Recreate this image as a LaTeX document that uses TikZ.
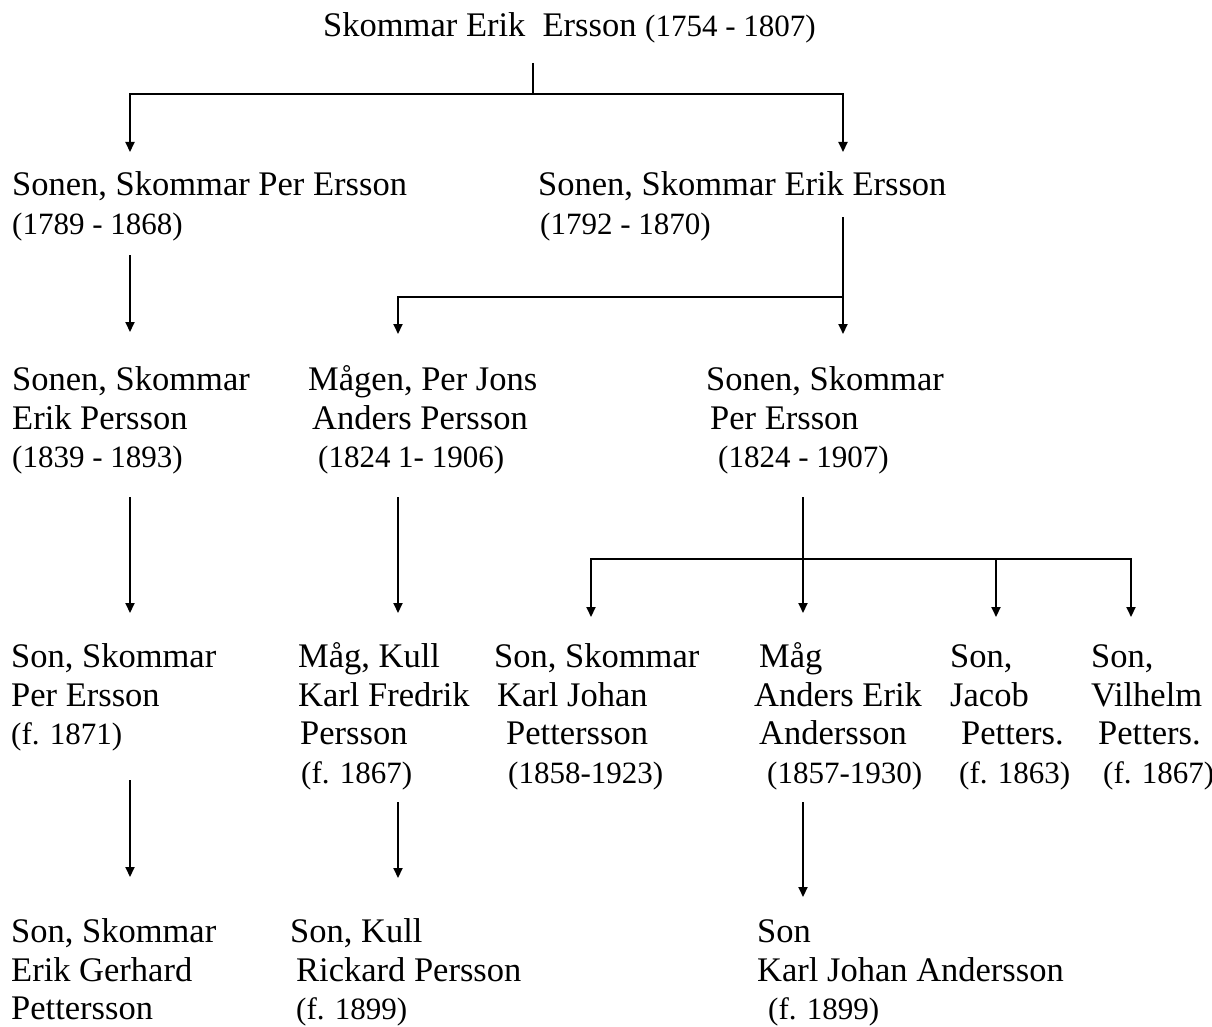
\documentclass[tikz,border=0pt]{standalone}
\usepackage{fontspec}
\setmainfont{Liberation Serif}
\usetikzlibrary{arrows.meta}
\newcommand\dates[1]{{\fontsize{31}{38.5}\selectfont #1}}
\begin{document}
\begin{tikzpicture}[x=1pt,y=-1pt,
  person/.style={anchor=base west, inner sep=0pt, align=left,
                 font=\fontsize{34.5}{38.5}\selectfont},
  conn/.style={line width=2pt},
  arr/.style={line width=2pt, -{Triangle[width=9pt,length=10pt]}}]
\useasboundingbox (0,0) rectangle (1212,1027);
\fill[white] (0,0) rectangle (1212,1027);

% ---- people (multi-line nodes: base = last line baseline + strut depth) ----
\node[person] (n0)  at (323,37)     {Skommar Erik~ Ersson \dates{(1754 - 1807)}};
\node[person] (n1)  at (12,234)     {Sonen, Skommar Per Ersson\\\dates{(1789 - 1868)}};
\node[person] (n2)  at (538,234)    {Sonen, Skommar Erik Ersson\\\hspace*{2pt}\dates{(1792 - 1870)}};
\node[person] (n3)  at (12,467.5)   {Sonen, Skommar\\Erik Persson\\\dates{(1839 - 1893)}};
\node[person] (n4)  at (308,467.5)  {Mågen, Per Jons\\\hspace*{4pt}Anders Persson\\\hspace*{10pt}\dates{(1824 1- 1906)}};
\node[person] (n5)  at (706,467.5)  {Sonen, Skommar\\\hspace*{4pt}Per Ersson\\\hspace*{12pt}\dates{(1824 - 1907)}};
\node[person] (n6)  at (11,744.5)   {Son, Skommar\\Per Ersson\\\dates{(f. 1871)}};
\node[person] (n7)  at (298,783)    {Måg, Kull\\Karl Fredrik\\\hspace*{2pt}Persson\\\hspace*{3pt}\dates{(f. 1867)}};
\node[person] (n8)  at (494,783)    {Son, Skommar\\\hspace*{3pt}Karl Johan\\\hspace*{12pt}Pettersson\\\hspace*{14pt}\dates{(1858-1923)}};
\node[person] (n9)  at (754,783)    {\hspace*{5pt}Måg\\Anders Erik\\\hspace*{5pt}Andersson\\\hspace*{13pt}\dates{(1857-1930)}};
\node[person] (n10) at (950,783)    {Son,\\Jacob\\\hspace*{11pt}Petters.\\\hspace*{9pt}\dates{(f. 1863)}};
\node[person] (n11) at (1091,783)   {Son,\\Vilhelm\\\hspace*{7pt}Petters.\\\hspace*{12pt}\dates{(f. 1867)}};
\node[person] (n12) at (11,1019.5)  {Son, Skommar\\Erik Gerhard\\Pettersson};
\node[person] (n13) at (290,1019.5) {Son, Kull\\\hspace*{6pt}Rickard Persson\\\hspace*{6pt}\dates{(f. 1899)}};
\node[person] (n14) at (757,1019.5) {Son\\Karl Johan Andersson\\\hspace*{11pt}\dates{(f. 1899)}};

% ---- connector points ----
\coordinate (t0) at (533,63);
\coordinate (j0) at (533,94);
\coordinate (a1) at (130,152);
\coordinate (a2) at (843,152);
\coordinate (s1) at (130,255);
\coordinate (a3) at (130,332);
\coordinate (s2) at (843,217);
\coordinate (j2) at (843,297);
\coordinate (a4) at (398,334);
\coordinate (a5) at (843,334);
\coordinate (s3) at (130,497);
\coordinate (a6) at (130,613);
\coordinate (s4) at (398,497);
\coordinate (a7) at (398,613);
\coordinate (s5) at (803,497);
\coordinate (j5) at (803,559);
\coordinate (a8) at (803,613);
\coordinate (a9) at (591,617);
\coordinate (j6) at (996,559);
\coordinate (a10) at (996,617);
\coordinate (a11) at (1131,617);
\coordinate (s6) at (130,780);
\coordinate (a12) at (130,877);
\coordinate (s7) at (398,802);
\coordinate (a13) at (398,878);
\coordinate (s8) at (803,802);
\coordinate (a14) at (803,897);

% ---- connectors ----
\draw[conn] (t0) -- (j0);
\draw[arr] (j0) -| (a1);
\draw[arr] (j0) -| (a2);
\draw[arr] (s1) -- (a3);
\draw[arr] (s2) -- (a5);
\draw[arr] (j2) -| (a4);
\draw[arr] (s3) -- (a6);
\draw[arr] (s4) -- (a7);
\draw[arr] (s5) -- (a8);
\draw[arr] (j5) -| (a9);
\draw[arr] (j5) -| (a11);
\draw[arr] (j6) -- (a10);
\draw[arr] (s6) -- (a12);
\draw[arr] (s7) -- (a13);
\draw[arr] (s8) -- (a14);
\end{tikzpicture}
\end{document}
